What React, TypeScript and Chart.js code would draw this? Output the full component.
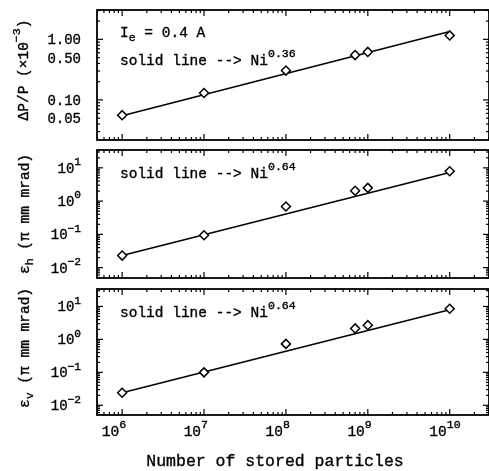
import React, { useEffect, useRef } from "react";
import { Chart, registerables } from "chart.js";

Chart.register(...registerables);

// ---------- data ----------
const particles = [1e6, 1e7, 1e8, 7e8, 1e9, 1e10];
const momentumSpread = [0.056, 0.13, 0.305, 0.55, 0.62, 1.16];
const emittanceH = [0.023, 0.094, 0.69, 2.05, 2.5, 7.9];
const emittanceV = [0.024, 0.1, 0.73, 2.15, 2.7, 8.5];

const fitParticles = [1e6, 1e10];
const fitMomentum = [0.055, 1.35];
const fitH = [0.023, 7.2];
const fitV = [0.024, 7.9];

const xTickValues = [1e6, 1e7, 1e8, 1e9, 1e10];
const xTickExponents = ["6", "7", "8", "9", "10"];

const momentumTickValues = [1, 0.5, 0.1, 0.05];
const momentumTickLabels = ["1.00", "0.50", "0.10", "0.05"];

const emitTickValues = [10, 1, 0.1, 0.01];
const emitTickExponents = ["1", "0", "\u22121", "\u22122"];

const fitExponentMomentum = "0.36";
const fitExponentEmit = "0.64";

// ---------- drawing helpers ----------
const FAM = '"Liberation Mono", "DejaVu Sans Mono", monospace';

type Seg = { t: string; k?: "sup" | "sub" };

function segFont(size: number, s: Seg) {
  const sz = s.k ? size * 0.8 : size;
  return `${sz}px ${FAM}`;
}

function richWidth(ctx: CanvasRenderingContext2D, segs: Seg[], size: number) {
  return segs.map((s) => {
    ctx.font = segFont(size, s);
    return ctx.measureText(s.t).width;
  });
}

function drawRich(
  ctx: CanvasRenderingContext2D,
  segs: Seg[],
  x: number,
  y: number,
  size: number,
  align: "left" | "right" | "center"
) {
  const widths = richWidth(ctx, segs, size);
  const total = widths.reduce((a, b) => a + b, 0);
  let cx = align === "left" ? x : align === "right" ? x - total : x - total / 2;
  ctx.textAlign = "left";
  ctx.textBaseline = "alphabetic";
  ctx.lineWidth = 0.35;
  segs.forEach((s, i) => {
    ctx.font = segFont(size, s);
    const dy = s.k === "sup" ? -size * 0.55 : s.k === "sub" ? size * 0.3 : 0;
    ctx.fillText(s.t, cx, y + dy);
    ctx.strokeText(s.t, cx, y + dy);
    cx += widths[i];
  });
}

function logTicks(min: number, max: number) {
  const out: { v: number; major: boolean }[] = [];
  const lo = Math.floor(Math.log10(min));
  const hi = Math.ceil(Math.log10(max));
  for (let d = lo; d <= hi; d++) {
    for (let m = 1; m <= 9; m++) {
      const v = m * Math.pow(10, d);
      if (v >= min && v <= max) out.push({ v, major: m === 1 });
    }
  }
  return out;
}

// ---------- panels ----------
interface Note {
  segs: Seg[];
  x: number;
  y: number;
}
interface Panel {
  top: number;
  height: number;
  padTop: number;
  padBottom: number;
  yMin: number;
  yMax: number;
  values: number[];
  fit: number[];
  yTicks: number[];
  yLabels: Seg[][];
  title: Seg[];
  titleX: number;
  titleY: number;
  notes: Note[];
  showX: boolean;
}

const X_MIN = 4.93e5;
const X_MAX = 3.02e10;
const CANVAS_W = 495;

const panels: Panel[] = [
  {
    top: 0,
    height: 146,
    padTop: 10,
    padBottom: 3,
    yMin: 0.0218,
    yMax: 3.05,
    values: momentumSpread,
    fit: fitMomentum,
    yTicks: momentumTickValues,
    yLabels: momentumTickLabels.map((t) => [{ t }]),
    title: [{ t: "\u0394P/P (\u00d710" }, { t: "\u22123", k: "sup" }, { t: ")" }],
    titleX: 28,
    titleY: 70,
    notes: [
      { segs: [{ t: "I" }, { t: "e", k: "sub" }, { t: " = 0.4 A" }], x: 120, y: 37 },
      {
        segs: [{ t: "solid line --> Ni" }, { t: fitExponentMomentum, k: "sup" }],
        x: 120,
        y: 65,
      },
    ],
    showX: false,
  },
  {
    top: 144,
    height: 140,
    padTop: 2,
    padBottom: 2,
    yMin: 0.00487,
    yMax: 34.4,
    values: emittanceH,
    fit: fitH,
    yTicks: emitTickValues,
    yLabels: emitTickExponents.map((e) => [{ t: "10" }, { t: e, k: "sup" }]),
    title: [{ t: "\u03b5" }, { t: "h", k: "sub" }, { t: " (\u03c0 mm mrad)" }],
    titleX: 29,
    titleY: 214,
    notes: [
      {
        segs: [{ t: "solid line --> Ni" }, { t: fitExponentEmit, k: "sup" }],
        x: 120,
        y: 178,
      },
    ],
    showX: false,
  },
  {
    top: 283,
    height: 188,
    padTop: 2,
    padBottom: 56,
    yMin: 0.00508,
    yMax: 33.8,
    values: emittanceV,
    fit: fitV,
    yTicks: emitTickValues,
    yLabels: emitTickExponents.map((e) => [{ t: "10" }, { t: e, k: "sup" }]),
    title: [{ t: "\u03b5" }, { t: "v", k: "sub" }, { t: " (\u03c0 mm mrad)" }],
    titleX: 29,
    titleY: 348,
    notes: [
      {
        segs: [{ t: "solid line --> Ni" }, { t: fitExponentEmit, k: "sup" }],
        x: 120,
        y: 317,
      },
    ],
    showX: true,
  },
];

function PanelChart({ p }: { p: Panel }) {
  const ref = useRef<HTMLCanvasElement>(null);

  useEffect(() => {
    const canvas = ref.current;
    if (!canvas) return;

    const framePlugin = {
      id: "frame",
      afterDatasetsDraw(chart: any) {
        const ctx: CanvasRenderingContext2D = chart.ctx;
        const a = chart.chartArea;
        const xs = chart.scales.x;
        const ys = chart.scales.y;
        ctx.save();
        ctx.strokeStyle = "#000";
        ctx.fillStyle = "#000";
        ctx.lineWidth = 1.2;
        const seg = (x1: number, y1: number, x2: number, y2: number) => {
          ctx.beginPath();
          ctx.moveTo(x1, y1);
          ctx.lineTo(x2, y2);
          ctx.stroke();
        };
        for (const t of logTicks(X_MIN, X_MAX)) {
          const px = xs.getPixelForValue(t.v);
          const len = t.major ? 6 : 3;
          seg(px, a.bottom, px, a.bottom - len);
          seg(px, a.top, px, a.top + len);
        }
        for (const t of logTicks(p.yMin, p.yMax)) {
          const py = ys.getPixelForValue(t.v);
          const len = t.major ? 6 : 3;
          seg(a.left, py, a.left + len, py);
          seg(a.right, py, a.right - len, py);
        }
        ctx.lineWidth = 1.8;
        ctx.strokeRect(a.left, a.top, a.right - a.left, a.bottom - a.top);

        // y tick labels
        p.yTicks.forEach((v, i) => {
          const py = ys.getPixelForValue(v);
          drawRich(ctx, p.yLabels[i], 81, py + 5, 14, "right");
        });

        // y title
        ctx.save();
        ctx.translate(p.titleX, p.titleY - p.top);
        ctx.rotate(-Math.PI / 2);
        drawRich(ctx, p.title, 0, 0, 14.5, "center");
        ctx.restore();

        // notes
        p.notes.forEach((n) => drawRich(ctx, n.segs, n.x, n.y - p.top, 14.5, "left"));

        if (p.showX) {
          xTickValues.forEach((v, i) => {
            const px = xs.getPixelForValue(v);
            drawRich(ctx, [{ t: "10" }], px - 3, 436 - p.top, 14.5, "right");
            drawRich(ctx, [{ t: xTickExponents[i], k: "sup" }], px - 3, 436 - p.top, 14.5, "left");
          });
          drawRich(ctx, [{ t: "Number of stored particles" }], 275, 466 - p.top, 16.5, "center");
        }
        ctx.restore();
      },
    };

    const chart = new Chart(canvas, {
      type: "scatter",
      data: {
        datasets: [
          {
            data: particles.map((x, i) => ({ x, y: p.values[i] })),
            pointStyle: "rectRot",
            pointRadius: 4.5,
            pointBorderWidth: 1.5,
            pointBorderColor: "#000",
            pointBackgroundColor: "#fff",
            showLine: false,
          },
          {
            data: fitParticles.map((x, i) => ({ x, y: p.fit[i] })),
            showLine: true,
            borderColor: "#000",
            borderWidth: 1.5,
            pointRadius: 0,
          },
        ],
      },
      options: {
        responsive: false,
        animation: false,
        layout: {
          padding: { left: 97, right: CANVAS_W - 491, top: p.padTop, bottom: p.padBottom },
        },
        plugins: { legend: { display: false }, tooltip: { enabled: false } },
        scales: {
          x: { type: "logarithmic", min: X_MIN, max: X_MAX, display: false },
          y: { type: "logarithmic", min: p.yMin, max: p.yMax, display: false },
        },
      },
      plugins: [framePlugin],
    });
    return () => chart.destroy();
  }, [p]);

  return (
    <canvas
      ref={ref}
      width={CANVAS_W}
      height={p.height}
      style={{ position: "absolute", left: 0, top: p.top, width: CANVAS_W, height: p.height }}
    />
  );
}

export default function App() {
  return (
    <div
      style={{
        position: "absolute",
        left: 0,
        top: 0,
        width: 489,
        height: 471,
        overflow: "hidden",
        background: "#fff",
      }}
    >
      {panels.map((p, i) => (
        <PanelChart key={i} p={p} />
      ))}
    </div>
  );
}
